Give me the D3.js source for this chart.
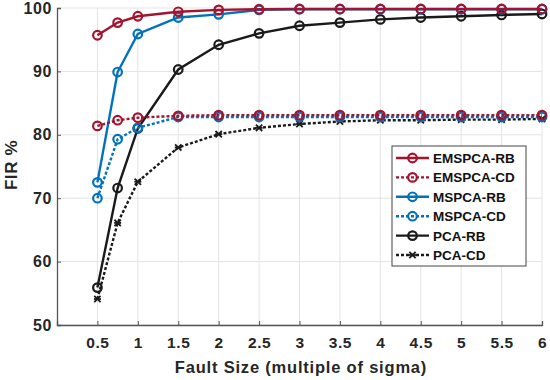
<!DOCTYPE html>
<html><head><meta charset="utf-8">
<script src="https://cdn.jsdelivr.net/npm/d3@7"></script>
<style>body{margin:0;background:#fff;}svg{display:block;font-family:"Liberation Sans",Arial,sans-serif;}</style>
</head><body><svg id="c" width="550" height="380"></svg>
<script>
const faultSize = [0.5, 0.75, 1, 1.5, 2, 2.5, 3, 3.5, 4, 4.5, 5, 5.5, 6];
const emspcaRB = [95.7, 97.7, 98.7, 99.4, 99.7, 99.8, 99.85, 99.85, 99.85, 99.85, 99.85, 99.85, 99.85];
const emspcaCD = [81.4, 82.3, 82.7, 83.0, 83.1, 83.1, 83.1, 83.1, 83.1, 83.1, 83.1, 83.1, 83.1];
const mspcaRB  = [72.5, 89.9, 95.9, 98.5, 99.0, 99.7, 99.8, 99.8, 99.8, 99.8, 99.8, 99.8, 99.8];
const mspcaCD  = [70.0, 79.3, 81.1, 82.8, 82.8, 82.8, 82.8, 82.8, 82.8, 82.8, 82.8, 82.8, 82.8];
const pcaRB    = [55.9, 71.6, 81.0, 90.3, 94.2, 96.0, 97.2, 97.7, 98.2, 98.5, 98.7, 98.9, 99.05];
const pcaCD    = [54.1, 66.1, 72.6, 78.0, 80.1, 81.1, 81.7, 82.1, 82.3, 82.3, 82.4, 82.4, 82.5];
const xTicks = [0.5, 1, 1.5, 2, 2.5, 3, 3.5, 4, 4.5, 5, 5.5, 6];
const yTicks = [50, 60, 70, 80, 90, 100];

const series = [
  {name: "EMSPCA-RB", values: emspcaRB, color: "#A2142F", dash: null, marker: "circle"},
  {name: "EMSPCA-CD", values: emspcaCD, color: "#A2142F", dash: "3,2", marker: "circle"},
  {name: "MSPCA-RB", values: mspcaRB, color: "#0072BD", dash: null, marker: "circle"},
  {name: "MSPCA-CD", values: mspcaCD, color: "#0072BD", dash: "3,2", marker: "circle"},
  {name: "PCA-RB", values: pcaRB, color: "#1a1a1a", dash: null, marker: "circle"},
  {name: "PCA-CD", values: pcaCD, color: "#1a1a1a", dash: "3,2", marker: "star"}
];

const svg = d3.select("#c");
const x = d3.scaleLinear().domain([0, 6]).range([57, 542]);
const y = d3.scaleLinear().domain([50, 100]).range([325, 8]);

// grid
svg.append("g").selectAll("line").data(xTicks).join("line")
  .attr("x1", d => x(d)).attr("x2", d => x(d)).attr("y1", y(50)).attr("y2", y(100))
  .attr("stroke", "#e3e3e3").attr("stroke-width", 1);
svg.append("g").selectAll("line").data(yTicks).join("line")
  .attr("x1", x(0)).attr("x2", x(6)).attr("y1", d => y(d)).attr("y2", d => y(d))
  .attr("stroke", "#e3e3e3").attr("stroke-width", 1);

// axes
const xAxis = svg.append("g").attr("transform", `translate(0,${y(50)})`)
  .call(d3.axisBottom(x).tickValues(xTicks).tickSize(-4).tickPadding(12).tickFormat(d3.format("")));
const yAxis = svg.append("g").attr("transform", `translate(${x(0)},0)`)
  .call(d3.axisLeft(y).tickValues(yTicks).tickSize(-4).tickPadding(5));
[xAxis, yAxis].forEach(a => {
  a.select(".domain").attr("stroke", "#555").attr("stroke-width", 1.3);
  a.selectAll(".tick line").attr("stroke", "#555");
  a.selectAll(".tick text").attr("fill", "#262626").attr("font-size", 15.5).attr("font-weight", "bold")
    .attr("letter-spacing", 0.6)
    .attr("font-family", "Liberation Sans, Arial, sans-serif");
});
yAxis.selectAll(".tick text").attr("font-size", 16);

// titles
svg.append("text").attr("x", 301).attr("y", 373).attr("text-anchor", "middle")
  .attr("font-size", 16.5).attr("font-weight", "bold").attr("fill", "#262626")
  .attr("letter-spacing", 0.8)
  .text("Fault Size (multiple of sigma)");
svg.append("text").attr("transform", "translate(17,165) rotate(-90)").attr("text-anchor", "middle")
  .attr("font-size", 17).attr("font-weight", "bold").attr("fill", "#262626")
  .attr("letter-spacing", 0.6).text("FIR %");

// lines
const line = d3.line().x((d, i) => x(faultSize[i])).y(d => y(d));
const order = [5, 4, 3, 2, 1, 0];
function drawMarker(g, s, cx, cy) {
  if (s.marker === "circle") {
    g.append("circle").attr("cx", cx).attr("cy", cy).attr("r", 4.3)
      .attr("fill", "none").attr("stroke", s.color).attr("stroke-width", 2.2);
  } else {
    const p = d3.symbol().type(d3.symbolTimes).size(28)();
    g.append("path").attr("d", p).attr("transform", `translate(${cx},${cy})`)
      .attr("fill", "none").attr("stroke", s.color).attr("stroke-width", 1.8);
    g.append("path").attr("d", "M-3.5,0H3.5").attr("transform", `translate(${cx},${cy})`)
      .attr("stroke", s.color).attr("stroke-width", 1.8);
  }
}
order.forEach(k => {
  const s = series[k];
  const g = svg.append("g");
  g.append("path").datum(s.values).attr("d", line).attr("fill", "none")
    .attr("stroke", s.color).attr("stroke-width", 2.4)
    .attr("stroke-dasharray", s.dash);
  s.values.forEach((v, i) => drawMarker(g, s, x(faultSize[i]), y(v)));
});

// legend
const lg = svg.append("g");
lg.append("rect").attr("x", 392).attr("y", 146).attr("width", 134).attr("height", 120)
  .attr("fill", "#fff").attr("stroke", "#444").attr("stroke-width", 1);
series.forEach((s, i) => {
  const yy = 158 + i * 19.4;
  lg.append("line").attr("x1", 396).attr("x2", 429).attr("y1", yy).attr("y2", yy)
    .attr("stroke", s.color).attr("stroke-width", 2.4).attr("stroke-dasharray", s.dash);
  drawMarker(lg, s, 412.5, yy);
  lg.append("text").attr("x", 433).attr("y", yy + 5).attr("font-size", 13.5)
    .attr("font-weight", "bold").attr("fill", "#111").text(s.name);
});
</script></body></html>
